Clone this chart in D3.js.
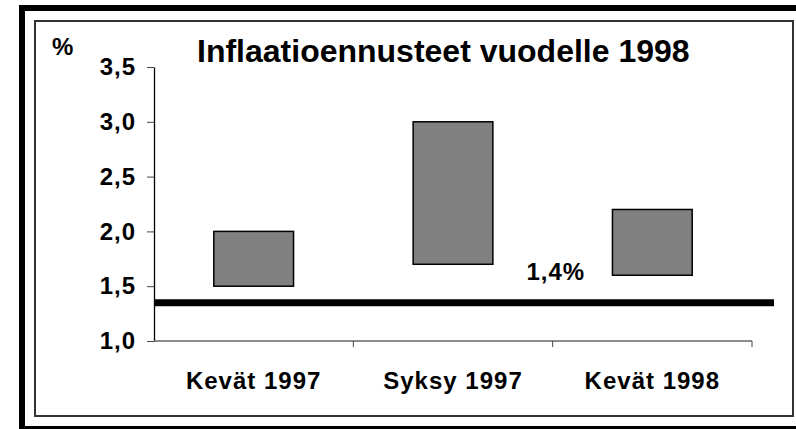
<!DOCTYPE html>
<html>
<head>
<meta charset="utf-8">
<script src="https://cdn.jsdelivr.net/npm/d3@7"></script>
<style>
  body { margin: 0; background: #fff; }
  svg { display: block; font-family: "Liberation Sans", Arial, sans-serif; font-weight: bold; }
</style>
</head>
<body>
<div id="chart"></div>
<script>
// data
var categories = ["Kevät 1997", "Syksy 1997", "Kevät 1998"];
var lowValues = [1.5, 1.7, 1.6];   // lower end of forecast range
var highValues = [2.0, 3.0, 2.2];  // upper end of forecast range
var yTicks = [1.0, 1.5, 2.0, 2.5, 3.0, 3.5];
var actualValue = 1.35;            // realised inflation line
var actualLabel = "1,4%";
var title = "Inflaatioennusteet vuodelle 1998";

var width = 796, height = 429;

var svg = d3.select('#chart').append('svg')
  .attr('width', width)
  .attr('height', height);

// frames
svg.append('rect')
  .attr('x', 22).attr('y', 8)
  .attr('width', 800).attr('height', 421)
  .attr('fill', 'none').attr('stroke', '#000').attr('stroke-width', 6);
svg.append('rect')
  .attr('x', 35).attr('y', 21)
  .attr('width', 758).attr('height', 395)
  .attr('fill', 'none').attr('stroke', '#333').attr('stroke-width', 2);

var x = d3.scaleBand()
  .domain(categories)
  .range([154, 752])
  .paddingInner(0.6)
  .paddingOuter(0.3);

var y = d3.scaleLinear()
  .domain([1, 3.5])
  .range([341, 67]);

var fi = d3.formatLocale({decimal: ",", thousands: " ", grouping: [3], currency: ["", " €"]});
var fmt = fi.format(".1f");

// y axis
var yAxis = svg.append('g')
  .attr('transform', 'translate(154,0)')
  .call(d3.axisLeft(y).tickValues(yTicks).tickFormat(fmt).tickSize(7).tickSizeOuter(0).tickPadding(11));
yAxis.select('.domain').attr('stroke', '#000').attr('stroke-width', 1.3);
yAxis.selectAll('.tick line').attr('stroke', '#444');
yAxis.selectAll('.tick text')
  .attr('font-size', 24).attr('font-weight', 'bold').attr('fill', '#000')
  .attr('font-family', '"Liberation Sans", Arial, sans-serif')
  .attr('letter-spacing', 1);

// x axis: baseline plus ticks on category boundaries
var step = x.step();
var x0 = x.range()[0];
svg.append('line')
  .attr('x1', x0).attr('x2', x.range()[1])
  .attr('y1', y(1)).attr('y2', y(1))
  .attr('stroke', '#666').attr('stroke-width', 1.3);
svg.selectAll('.xtick')
  .data(d3.range(1, categories.length + 1))
  .enter().append('line')
  .attr('class', 'xtick')
  .attr('x1', function(i) { return x0 + i * step; })
  .attr('x2', function(i) { return x0 + i * step; })
  .attr('y1', y(1)).attr('y2', y(1) + 6)
  .attr('stroke', '#444');

svg.selectAll('.xlabel')
  .data(categories)
  .enter().append('text')
  .attr('class', 'xlabel')
  .attr('x', function(d) { return x(d) + x.bandwidth() / 2; })
  .attr('y', 389)
  .attr('text-anchor', 'middle')
  .attr('font-size', 24)
  .attr('letter-spacing', 1)
  .text(function(d) { return d; });

// floating bars
svg.selectAll('.bar')
  .data(categories)
  .enter().append('rect')
  .attr('class', 'bar')
  .attr('x', function(d) { return x(d); })
  .attr('width', x.bandwidth())
  .attr('y', function(d, i) { return y(highValues[i]); })
  .attr('height', function(d, i) { return y(lowValues[i]) - y(highValues[i]); })
  .attr('fill', '#808080')
  .attr('stroke', '#000')
  .attr('stroke-width', 1.5);

// actual inflation line
svg.append('line')
  .attr('x1', x0).attr('x2', x.range()[1] + 22)
  .attr('y1', y(actualValue)).attr('y2', y(actualValue))
  .attr('stroke', '#000').attr('stroke-width', 7);

svg.append('text')
  .attr('x', x(categories[2]) - 86)
  .attr('y', y(actualValue) - 23)
  .attr('font-size', 24)
  .attr('letter-spacing', 1)
  .text(actualLabel);

// title and unit
svg.append('text')
  .attr('x', 197).attr('y', 62)
  .attr('font-size', 32)
  .text(title);

svg.append('text')
  .attr('x', 52).attr('y', 55)
  .attr('font-size', 24)
  .text('%');
</script>
</body>
</html>
